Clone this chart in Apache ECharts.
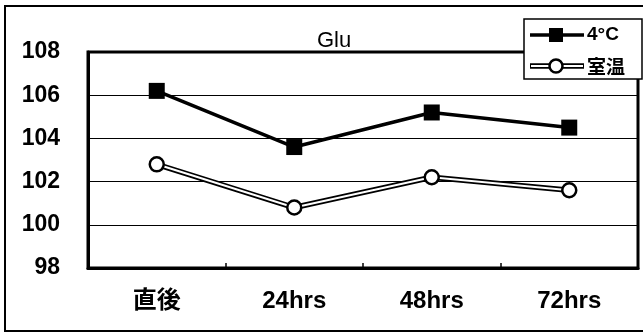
<!DOCTYPE html>
<html>
<head>
<meta charset="utf-8">
<script src="https://cdn.jsdelivr.net/npm/echarts@6/dist/echarts.min.js"></script>
<style>
  html, body { margin: 0; padding: 0; background: #fff; }
  #chart { width: 643px; height: 332px; }
</style>
</head>
<body>
<div id="chart"></div>
<script>
// Glu recovery over storage time, two storage temperatures
const categories = ['直後', '24hrs', '48hrs', '72hrs'];
const cold = [106.2, 103.6, 105.2, 104.5];     // 4°C
const room = [102.8, 100.8, 102.2, 101.6];     // 室温
const yTicks = { min: 98, max: 108, step: 2 };

const sans = '"Liberation Sans", Arial, sans-serif';
const jp = '"Liberation Sans", "Noto Sans CJK JP", sans-serif';

const chart = echarts.init(document.getElementById('chart'), null, { renderer: 'canvas' });

chart.setOption({
  backgroundColor: '#fff',
  animation: false,
  title: {
    text: 'Glu',
    left: 329, top: 25, textAlign: 'center',
    textStyle: { fontFamily: sans, fontSize: 22, fontWeight: 'normal', color: '#000' }
  },
  grid: {
    left: 88, right: 5, top: 52, bottom: 64,
    show: true, borderColor: '#000', borderWidth: 3, backgroundColor: 'transparent'
  },
  xAxis: {
    type: 'category',
    data: categories,
    boundaryGap: true,
    axisLine: { lineStyle: { color: '#000', width: 3 } },
    axisTick: { show: true, inside: true, length: 5, lineStyle: { color: '#000', width: 1.5 } },
    axisLabel: {
      margin: 21, color: '#000',
      fontFamily: jp, fontSize: 24, fontWeight: 'bold'
    },
    splitLine: { show: false }
  },
  yAxis: {
    type: 'value',
    min: yTicks.min, max: yTicks.max, interval: yTicks.step,
    axisLine: { show: true, lineStyle: { color: '#000', width: 3 } },
    axisTick: { show: false },
    axisLabel: {
      margin: 28, color: '#000',
      fontFamily: sans, fontSize: 23, fontWeight: 'bold'
    },
    splitLine: { show: true, lineStyle: { color: '#000', width: 1 } }
  },
  series: [
    {
      name: '室温-outline', type: 'line', data: room,
      symbol: 'none', silent: true,
      lineStyle: { color: '#000', width: 5.5 }, z: 2
    },
    {
      name: '室温', type: 'line', data: room,
      symbol: 'circle', symbolSize: 14,
      itemStyle: { color: '#fff', borderColor: '#000', borderWidth: 2.5 },
      lineStyle: { color: '#fff', width: 2 }, z: 3
    },
    {
      name: '4°C', type: 'line', data: cold,
      symbol: 'rect', symbolSize: 16,
      itemStyle: { color: '#000' },
      lineStyle: { color: '#000', width: 3.5 }, z: 4
    }
  ],
  graphic: [
    // outer frame
    { type: 'rect', shape: { x: 5, y: 6, width: 660, height: 325 },
      style: { fill: null, stroke: '#000', lineWidth: 2 }, z: 0, silent: true },
    // legend box
    { type: 'rect', shape: { x: 524, y: 19, width: 118, height: 60 },
      style: { fill: '#fff', stroke: '#000', lineWidth: 1.5 }, z: 20 },
    // 4°C key
    { type: 'line', shape: { x1: 530, y1: 35, x2: 584, y2: 35 },
      style: { stroke: '#000', lineWidth: 3.5 }, z: 21 },
    { type: 'rect', shape: { x: 549, y: 28, width: 14, height: 14 },
      style: { fill: '#000' }, z: 22 },
    { type: 'text', x: 587, y: 35, z: 22,
      style: { text: '4°C', fill: '#000', font: 'bold 19px "Liberation Sans", Arial, sans-serif', verticalAlign: 'middle' } },
    // 室温 key
    { type: 'line', shape: { x1: 530, y1: 66, x2: 584, y2: 66 },
      style: { stroke: '#000', lineWidth: 5.5 }, z: 21 },
    { type: 'line', shape: { x1: 531, y1: 66, x2: 583, y2: 66 },
      style: { stroke: '#fff', lineWidth: 2 }, z: 22 },
    { type: 'circle', shape: { cx: 556, cy: 66, r: 6.5 },
      style: { fill: '#fff', stroke: '#000', lineWidth: 2.5 }, z: 23 },
    { type: 'text', x: 587, y: 67, z: 22,
      style: { text: '室温', fill: '#000', font: 'bold 19px "Noto Sans CJK JP", sans-serif', verticalAlign: 'middle' } }
  ]
});
</script>
</body>
</html>
